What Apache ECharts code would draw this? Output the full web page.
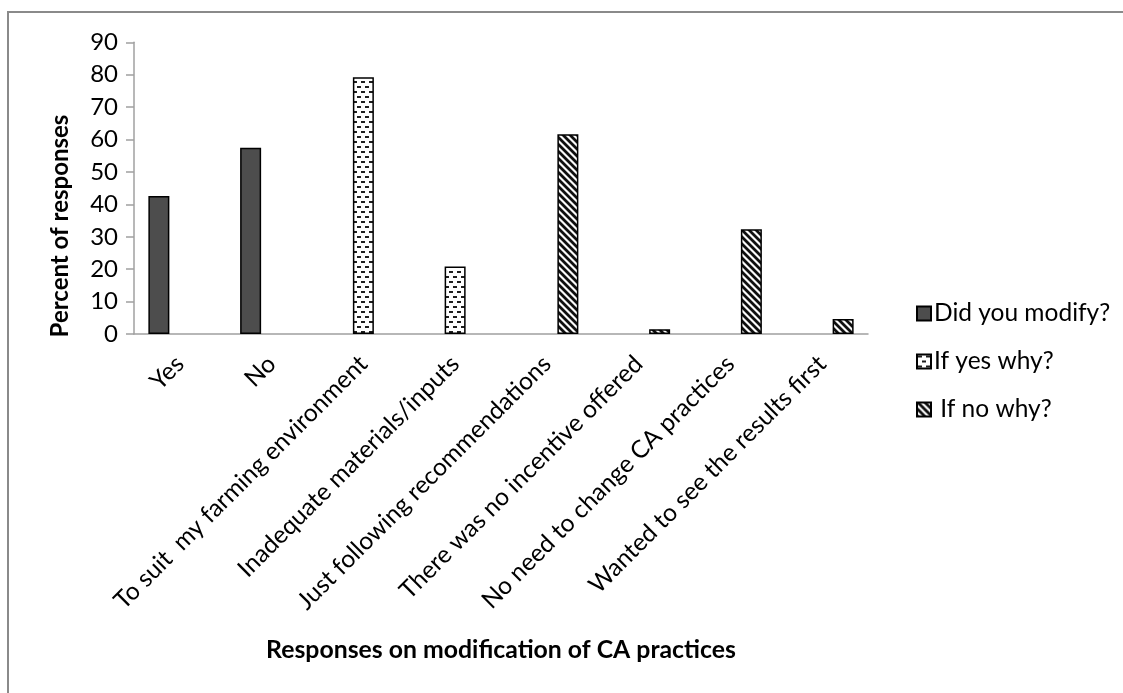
<!DOCTYPE html>
<html>
<head>
<meta charset="utf-8">
<script src="https://cdn.jsdelivr.net/npm/echarts@6/dist/echarts.min.js"></script>
<style>
html,body{margin:0;padding:0;background:#fff;}
#chart{width:1123px;height:693px;}
</style>
</head>
<body>
<div id="chart"></div>
<script>
// ---- data ----
var categories = ['Yes', 'No', 'To suit  my farming environment', 'Inadequate materials/inputs',
  'Just following recommendations', 'There was no incentive offered',
  'No need to change CA practices', 'Wanted to see the results first'];
var seriesNames = ['Did you modify?', 'If yes why?', ' If no why?'];
var didModify = [42.6, 57.5, null, null, null, null, null, null];
var ifYesWhy = [null, null, 79.2, 20.8, null, null, null, null];
var ifNoWhy = [null, null, null, null, 61.6, 1.5, 32.3, 4.6];
var yTicks = { min: 0, max: 90, interval: 10 };
var xTitle = 'Responses on modification of CA practices';
var yTitle = 'Percent of responses';

// ---- fill patterns ----
function makeDots() {
  var c = document.createElement('canvas');
  c.width = 8; c.height = 10;
  var g = c.getContext('2d');
  g.fillStyle = '#ffffff'; g.fillRect(0, 0, 8, 10);
  g.fillStyle = '#1e1e1e';
  g.fillRect(1, 1, 4, 2);
  g.fillRect(5, 6, 3, 2);
  g.fillRect(0, 6, 1, 2);
  return c;
}
function makeStripes() {
  var n = 7;
  var c = document.createElement('canvas');
  c.width = n; c.height = n;
  var g = c.getContext('2d');
  var img = g.createImageData(n, n);
  for (var y = 0; y < n; y++) {
    for (var x = 0; x < n; x++) {
      var k = ((x - y) % n + n) % n;
      var v = (k <= 2) ? 15 : (k === 3 || k === 6) ? 140 : 250;
      var i = (y * n + x) * 4;
      img.data[i] = v; img.data[i + 1] = v; img.data[i + 2] = v; img.data[i + 3] = 255;
    }
  }
  g.putImageData(img, 0, 0);
  return c;
}
var dotsPattern = { image: makeDots(), repeat: 'repeat' };
var stripePattern = { image: makeStripes(), repeat: 'repeat' };

var FONT = 'Lato, "Open Sans", sans-serif';
var chart = echarts.init(document.getElementById('chart'), null, { renderer: 'canvas' });

function barSeries(name, data, fill) {
  return {
    name: name,
    type: 'bar',
    data: data,
    barWidth: 21,
    barGap: '0%',
    itemStyle: { color: fill, borderColor: '#000', borderWidth: 1.5 },
    emphasis: { disabled: true }
  };
}

chart.setOption({
  backgroundColor: '#ffffff',
  animation: false,
  textStyle: { fontFamily: FONT },
  grid: { left: 134, right: 255, top: 42.3, bottom: 359, containLabel: false },
  legend: {
    orient: 'vertical',
    left: 911,
    top: 296,
    itemWidth: 14,
    itemHeight: 14,
    itemGap: 23,
    icon: 'rect',
    textStyle: { fontFamily: FONT, fontSize: 24.5, color: '#000', lineHeight: 24, padding: [0, 0, 0, -2] },
    data: seriesNames
  },
  xAxis: {
    type: 'category',
    data: categories,
    axisLine: { lineStyle: { color: '#a0a0a0', width: 1.5 } },
    axisTick: { show: false },
    axisLabel: { interval: 0, rotate: 45, margin: 26, fontSize: 24.5, color: '#000', fontFamily: FONT }
  },
  yAxis: {
    type: 'value',
    min: yTicks.min,
    max: yTicks.max,
    interval: yTicks.interval,
    axisLine: { show: true, lineStyle: { color: '#a0a0a0', width: 1.5 } },
    axisTick: { show: true, length: 8, lineStyle: { color: '#a0a0a0', width: 1.5 } },
    splitLine: { show: false },
    axisLabel: { margin: 16, fontSize: 24, color: '#000', fontFamily: FONT }
  },
  series: [
    barSeries(seriesNames[0], didModify, '#4d4d4d'),
    barSeries(seriesNames[1], ifYesWhy, dotsPattern),
    barSeries(seriesNames[2], ifNoWhy, stripePattern)
  ],
  graphic: [
    {
      type: 'rect', silent: true, z: -1,
      shape: { x: 8, y: 12, width: 1140, height: 720 },
      style: { fill: null, stroke: '#8a8a8a', lineWidth: 2 }
    },
    {
      type: 'text', silent: true,
      x: 60, y: 226, rotation: Math.PI / 2,
      style: { text: yTitle, font: 'bold 24px ' + FONT, fill: '#000', textAlign: 'center', textVerticalAlign: 'middle' }
    },
    {
      type: 'text', silent: true,
      x: 501, y: 650,
      style: { text: xTitle, font: 'bold 24.8px ' + FONT, fill: '#000', textAlign: 'center', textVerticalAlign: 'middle' }
    }
  ]
});
</script>
</body>
</html>
